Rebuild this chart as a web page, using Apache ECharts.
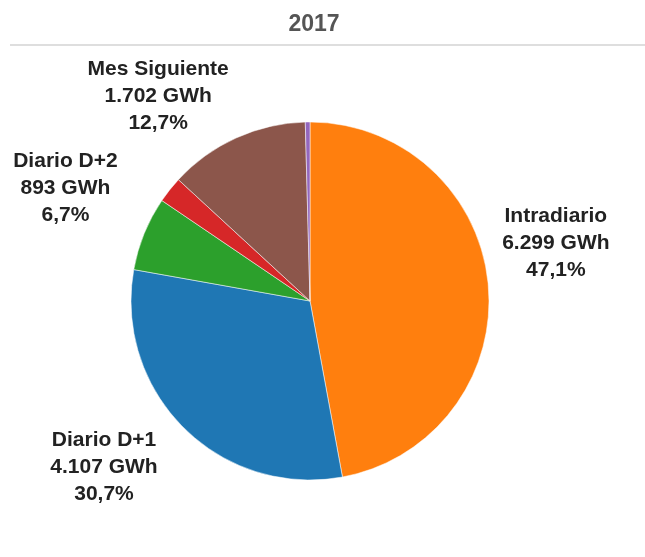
<!DOCTYPE html>
<html>
<head>
<meta charset="utf-8">
<script src="https://cdn.jsdelivr.net/npm/echarts@6/dist/echarts.min.js"></script>
<style>
  html, body { margin: 0; padding: 0; background: #fff; }
  #chart { width: 645px; height: 557px; }
</style>
</head>
<body>
<div id="chart"></div>
<script>
// 2017 volume per market (GWh), clockwise from the top
const markets = ['Intradiario', 'Diario D+1', 'Diario D+2', 'Fin de Semana', 'Mes Siguiente', 'Semana Siguiente']
const volumes = [6299, 4107, 893, 317, 1702, 56]
const showLabel = [true, true, true, false, true, false]
const colors = ['#ff7f0e', '#1f77b4', '#2ca02c', '#d62728', '#8c564b', '#9467bd']

// small shifts of the outside labels so they sit like the original (px)
const labelNudge = [[-11, -40], [-7, 25], [-3, -38], [0, 0], [6, -24], [0, 0]]

const total = volumes.reduce((a, b) => a + b, 0)

function fmtThousands(v) {
  return String(v).replace(/\B(?=(\d{3})+(?!\d))/g, '.')
}

function fmtPct(v) {
  return ((v / total) * 100).toFixed(1).replace('.', ',') + '%'
}

const fontFamily = 'Liberation Sans, Arial, sans-serif'
const chart = echarts.init(document.getElementById('chart'))

chart.setOption({
  animation: false,
  title: {
    text: '2017',
    left: 309,
    textAlign: 'center',
    top: 8,
    textStyle: { fontSize: 23, fontWeight: 'bold', color: '#555', fontFamily },
  },
  graphic: [{
    type: 'line',
    shape: { x1: 10, y1: 45, x2: 645, y2: 45 },
    style: { stroke: '#dedede', lineWidth: 2 },
  }],
  series: [{
    type: 'pie',
    center: [310, 301],
    radius: 179,
    startAngle: 90,
    clockwise: true,
    avoidLabelOverlap: false,
    data: markets.map((name, i) => ({
      name,
      value: volumes[i],
      itemStyle: { color: colors[i] },
      label: { show: showLabel[i] },
    })),
    itemStyle: { borderColor: '#fff', borderWidth: 0.5 },
    label: {
      position: 'outside',
      fontFamily,
      fontSize: 21,
      fontWeight: 'bold',
      lineHeight: 27,
      color: '#222',
      formatter: (p) => `${p.name}\n${fmtThousands(p.value)} GWh\n${fmtPct(p.value)}`,
    },
    labelLine: { show: false, length: 20, length2: 0 },
    labelLayout: (p) => {
      const r = p.labelRect
      const [dx, dy] = labelNudge[p.dataIndex]
      return { x: r.x + r.width / 2 + dx, y: r.y + r.height / 2 + dy, align: 'center', verticalAlign: 'middle' }
    },
  }],
})
</script>
</body>
</html>
